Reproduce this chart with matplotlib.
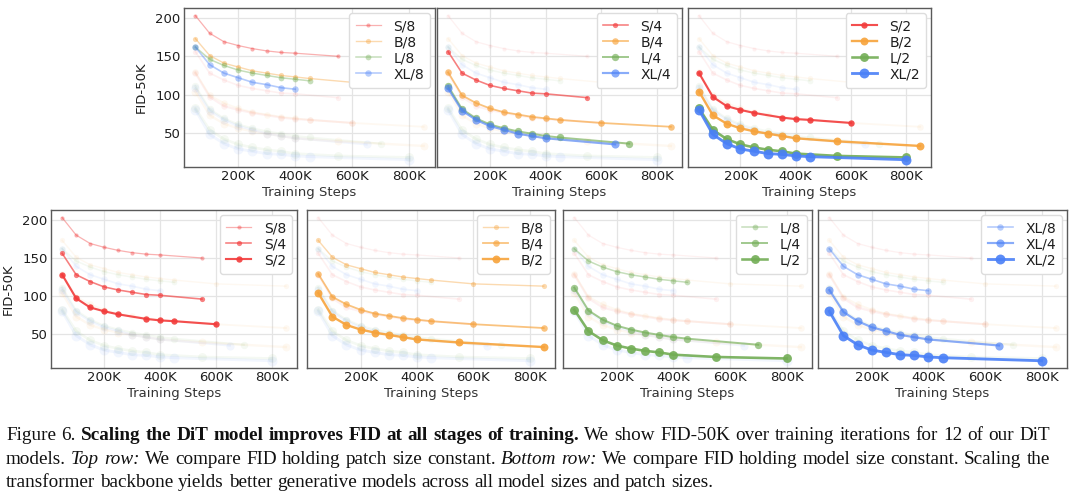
import matplotlib
matplotlib.use("Agg")
import matplotlib.pyplot as plt
from matplotlib.ticker import FuncFormatter

# ---------------- data (training steps in thousands, FID-50K) ----------------
S8_x = [50, 100, 150, 200, 250, 300, 350, 400, 550]
S8_fid = [203, 180, 169, 164, 160, 157, 155, 154, 150]
S4_x = [50, 100, 150, 200, 250, 300, 350, 400, 550]
S4_fid = [156, 128, 119, 112, 108, 105, 102, 101, 96]
S2_x = [50, 100, 150, 200, 250, 350, 400, 450, 600]
S2_fid = [128, 97, 85, 80, 76, 70, 68, 67, 63]

B8_x = [50, 100, 150, 200, 250, 300, 350, 400, 450, 600, 850]
B8_fid = [173, 151, 141, 136, 131, 128, 125, 123, 121, 116, 113]
B4_x = [50, 100, 150, 200, 250, 300, 350, 400, 450, 600, 850]
B4_fid = [129, 99, 89, 82, 77, 74, 71, 69, 67, 63, 58]
B2_x = [50, 100, 150, 200, 250, 300, 350, 400, 550, 850]
B2_fid = [104, 73, 62, 56, 52, 49, 46, 43, 39, 33]

L8_x = [50, 100, 150, 200, 250, 300, 350, 400, 450]
L8_fid = [162, 146, 138, 132, 128, 125, 122, 120, 118]
L4_x = [50, 100, 150, 200, 250, 300, 350, 400, 450, 700]
L4_fid = [111, 81, 69, 61, 56, 52, 49, 46, 44, 36]
L2_x = [50, 100, 150, 200, 250, 300, 350, 400, 550, 800]
L2_fid = [82, 54, 42, 35, 31, 28, 26, 23, 20, 18]

XL8_x = [50, 100, 150, 200, 250, 300, 350, 400]
XL8_fid = [162, 139, 128, 122, 116, 113, 109, 107]
XL4_x = [50, 100, 150, 200, 250, 300, 350, 400, 650]
XL4_fid = [108, 79, 67, 59, 54, 49, 46, 43, 35]
XL2_x = [50, 100, 150, 200, 250, 300, 350, 400, 450, 800]
XL2_fid = [80, 48, 36, 29, 26, 23, 22, 20, 19, 15]

models = ["S", "B", "L", "XL"]
patches = [8, 4, 2]
x_ticks = [200, 400, 600, 800]
y_ticks = [50, 100, 150, 200]
x_label = "Training Steps"
y_label = "FID-50K"

series = {
    ("S", 8): (S8_x, S8_fid), ("S", 4): (S4_x, S4_fid), ("S", 2): (S2_x, S2_fid),
    ("B", 8): (B8_x, B8_fid), ("B", 4): (B4_x, B4_fid), ("B", 2): (B2_x, B2_fid),
    ("L", 8): (L8_x, L8_fid), ("L", 4): (L4_x, L4_fid), ("L", 2): (L2_x, L2_fid),
    ("XL", 8): (XL8_x, XL8_fid), ("XL", 4): (XL4_x, XL4_fid), ("XL", 2): (XL2_x, XL2_fid),
}

# ---------------- styles ----------------
colors = {"S": "#f23c3c", "B": "#f7a33b", "L": "#72ad55", "XL": "#4a80f7"}
alphas = {8: 0.4, 4: 0.65, 2: 0.9}
ms_base = {8: 3.7, 4: 4.7, 2: 5.7}
ms_scale = {"S": 0.8, "B": 1.0, "L": 1.12, "XL": 1.25}
lw_base = {8: 1.0, 4: 1.3, 2: 1.7}
lw_scale = {"S": 0.9, "B": 1.0, "L": 1.1, "XL": 1.2}
FADE = 0.07

W, H = 1080, 500
fig = plt.figure(figsize=(W / 100, H / 100), dpi=100)
fig.patch.set_facecolor("white")


def add_ax(x0, x1, y0, y1):
    return fig.add_axes([x0 / W, 1 - y1 / H, (x1 - x0) / W, (y1 - y0) / H])


def style_ax(ax, show_y):
    ax.set_facecolor("white")
    ax.grid(True, color="#e4e4e4", lw=0.9)
    ax.set_axisbelow(True)
    for s in ax.spines.values():
        s.set_color("#5a5a5a")
        s.set_linewidth(1.0)
    ax.set_xticks(x_ticks)
    ax.set_yticks(y_ticks)
    ax.xaxis.set_major_formatter(FuncFormatter(lambda v, p: f"{v:.0f}K"))
    ax.tick_params(length=0, pad=2.5, labelsize=9.5, labelcolor="#1e1e1e")
    ax.set_xlabel(x_label, fontsize=9.5, labelpad=1.5, color="#333333")
    if show_y:
        ax.set_ylabel(y_label, fontsize=9.5, labelpad=5, color="#1e1e1e")
    else:
        ax.tick_params(labelleft=False)
    ax.set_xlim(10, 890)
    ax.set_ylim(5.5, 213)


def draw(ax, highlight, show_y):
    for m in models:
        for p in patches:
            if (m, p) in highlight:
                continue
            xs, ys = series[(m, p)]
            ax.plot(xs, ys, "-o", color=colors[m], alpha=FADE,
                    lw=lw_base[p] * lw_scale[m], ms=ms_base[p] * ms_scale[m],
                    mew=0, zorder=2)
    for (m, p) in highlight:
        xs, ys = series[(m, p)]
        ax.plot(xs, ys, "-o", color=colors[m], alpha=alphas[p],
                lw=lw_base[p] * lw_scale[m], ms=ms_base[p] * ms_scale[m],
                mew=0, zorder=3, label=f"{m}/{p}")
    leg = ax.legend(loc="upper right", fontsize=10, labelspacing=0.15,
                    handlelength=1.8, handletextpad=0.9, borderpad=0.45,
                    borderaxespad=0.35, framealpha=1.0, edgecolor="#dddddd")
    for t in leg.get_texts():
        t.set_color("#1e1e1e")
    style_ax(ax, show_y)


# top row: patch size constant
top_pos = [(184, 435), (437, 682), (688, 931)]
for i, p in enumerate(patches):
    ax = add_ax(top_pos[i][0], top_pos[i][1], 8, 167)
    draw(ax, [(m, p) for m in models], i == 0)

# bottom row: model size constant
bot_pos = [(51, 297), (307, 555), (563, 812), (818, 1067)]
for i, m in enumerate(models):
    ax = add_ax(bot_pos[i][0], bot_pos[i][1], 210, 368)
    draw(ax, [(m, p) for p in patches], i == 0)

# ---------------- caption ----------------
cap_lines = [
    [("Figure 6.", "n"),
     ("Scaling the DiT model improves FID at all stages of training.", "b"),
     ("We show FID-50K over training iterations for 12 of our DiT", "n")],
    [("models.", "n"), ("Top row:", "i"),
     ("We compare FID holding patch size constant.", "n"),
     ("Bottom row:", "i"),
     ("We compare FID holding model size constant. Scaling the", "n")],
    [("transformer backbone yields better generative models across all model sizes and patch sizes.", "n")],
]
baselines = [440, 463.5, 487]
X0, X1 = 6, 1050
serif = ["Liberation Serif", "DejaVu Serif"]

renderer = fig.canvas.get_renderer()


def make_text(s, style, fs):
    kw = dict(family=serif, fontsize=fs, color="#111111", va="baseline", ha="left")
    if style == "b":
        kw["fontweight"] = "bold"
    if style == "i":
        kw["fontstyle"] = "italic"
    return fig.text(0, 0, s, **kw)


# calibrate font size so that the last line has its natural width
probe = make_text(cap_lines[2][0][0], "n", 12)
wprobe = probe.get_window_extent(renderer).width
probe.remove()
FS = 12 * 707 / wprobe
space_px = 0.25 * FS * 100 / 72

for li, line in enumerate(cap_lines):
    words = []
    for seg, st in line:
        for w in seg.split(" "):
            words.append((w, st))
    texts = [make_text(w, st, FS) for w, st in words]
    widths = [t.get_window_extent(renderer).width for t in texts]
    if li < 2:
        gap = (X1 - X0 - sum(widths)) / (len(words) - 1)
    else:
        gap = space_px
    x = X0
    for t, w in zip(texts, widths):
        t.set_position((x / W, 1 - baselines[li] / H))
        x += w + gap

fig.savefig("out.png", dpi=100, facecolor="white")
